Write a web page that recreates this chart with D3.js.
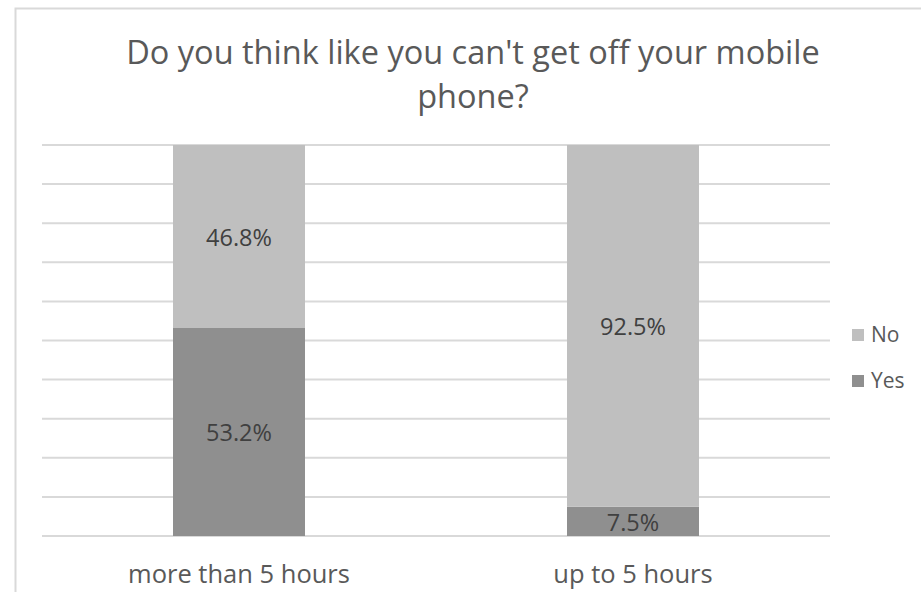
<!DOCTYPE html>
<html>
<head>
<meta charset="utf-8">
<script src="https://cdn.jsdelivr.net/npm/d3@7"></script>
<style>
html,body{margin:0;padding:0;background:#fff;}
svg{display:block;}
text{font-family:"Open Sans",sans-serif;}
</style>
</head>
<body>
<svg id="chart" width="921" height="592"></svg>
<script>
const title = ["Do you think like you can't get off your mobile", "phone?"];
const categories = ["more than 5 hours", "up to 5 hours"];
const seriesNames = ["Yes", "No"];
const yesValues = [53.2, 7.5];
const noValues = [46.8, 92.5];
const yTicks = [0,10,20,30,40,50,60,70,80,90,100];

const colors = {Yes: "#8f8f8f", No: "#bfbfbf"};
const svg = d3.select("#chart");
const W = 921, H = 592;

// outer chart border
svg.append("rect").attr("x", 15.5).attr("y", 8.5).attr("width", W + 10).attr("height", H + 10)
  .attr("fill", "#fff").attr("stroke", "#d9d9d9").attr("stroke-width", 2);

const plot = {left: 42, right: 830, top: 145, bottom: 536};
const x = d3.scaleBand().domain(categories).range([plot.left, plot.right])
  .paddingInner(0.665).paddingOuter(0.3325);
const y = d3.scaleLinear().domain([0, 100]).range([plot.bottom, plot.top]);

// gridlines
svg.append("g").selectAll("line").data(yTicks).join("line")
  .attr("x1", plot.left).attr("x2", plot.right)
  .attr("y1", d => y(d)).attr("y2", d => y(d))
  .attr("stroke", "#d9d9d9").attr("stroke-width", 2);

const data = categories.map((c, i) => ({cat: c, Yes: yesValues[i], No: noValues[i]}));
const stack = d3.stack().keys(seriesNames)(data);

const g = svg.append("g");
stack.forEach(layer => {
  g.selectAll(null).data(layer).join("rect")
    .attr("x", d => x(d.data.cat))
    .attr("width", x.bandwidth())
    .attr("y", d => y(d[1]))
    .attr("height", d => y(d[0]) - y(d[1]))
    .attr("fill", colors[layer.key]);
  g.selectAll(null).data(layer).join("text")
    .attr("x", d => x(d.data.cat) + x.bandwidth() / 2)
    .attr("y", d => (y(d[0]) + y(d[1])) / 2 + 9.5)
    .attr("text-anchor", "middle")
    .attr("font-size", 23.5)
    .attr("fill", "#404040")
    .text(d => (d[1] - d[0]).toFixed(1) + "%");
});

// category labels
svg.append("g").selectAll("text").data(categories).join("text")
  .attr("x", d => x(d) + x.bandwidth() / 2)
  .attr("y", 583)
  .attr("text-anchor", "middle")
  .attr("font-size", 25.5)
  .attr("fill", "#595959")
  .text(d => d);

// title
svg.append("g").selectAll("text").data(title).join("text")
  .attr("x", 473).attr("y", (d, i) => 64 + i * 44)
  .attr("text-anchor", "middle")
  .attr("font-size", 32.5)
  .attr("fill", "#595959")
  .text(d => d);

// legend
const legendItems = ["No", "Yes"];
const lg = svg.append("g").selectAll("g").data(legendItems).join("g")
  .attr("transform", (d, i) => `translate(852, ${335 + i * 46})`);
lg.append("rect").attr("x", 0).attr("y", -6).attr("width", 12).attr("height", 12)
  .attr("fill", d => colors[d]);
lg.append("text").attr("x", 19).attr("y", 7).attr("font-size", 21)
  .attr("fill", "#595959").text(d => d);
</script>
</body>
</html>
